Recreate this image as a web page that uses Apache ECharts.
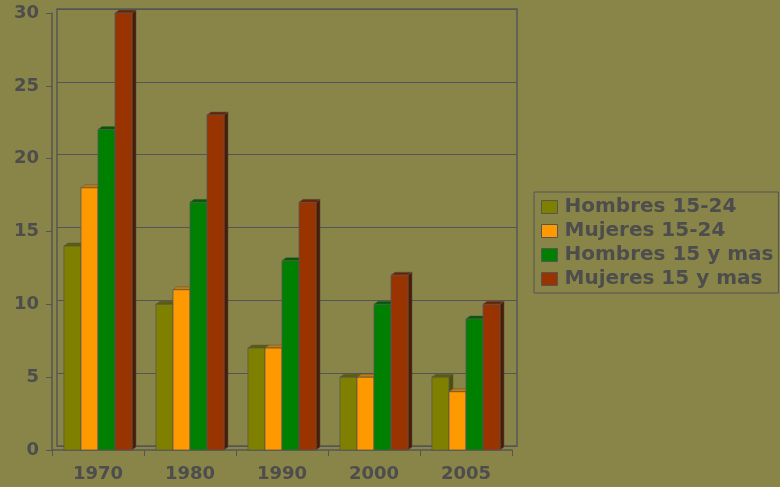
<!DOCTYPE html>
<html>
<head>
<meta charset="utf-8">
<script src="https://cdn.jsdelivr.net/npm/echarts@6/dist/echarts.min.js"></script>
<style>
  html, body { margin: 0; padding: 0; background: #898548; }
  #chart { width: 780px; height: 487px; }
</style>
</head>
<body>
<div id="chart"></div>
<script>
// datos
var years = ["1970", "1980", "1990", "2000", "2005"]
var hombres1524 = [14, 10, 7, 5, 5]
var mujeres1524 = [18, 11, 7, 5, 4]
var hombres15mas = [22, 17, 13, 10, 9]
var mujeres15mas = [30, 23, 17, 12, 10]
var seriesNames = ["Hombres 15-24", "Mujeres 15-24", "Hombres 15 y mas", "Mujeres 15 y mas"]
var yTicks = [0, 5, 10, 15, 20, 25, 30]

var colors = ["#808000", "#ff9900", "#008000", "#993300"]
var sideColors = ["#4f4f00", "#a86400", "#004d00", "#4f1a00"]
var topColors = ["#5e5e00", "#c97a00", "#005c00", "#6b2400"]
var txt = "#4d4d4d"
var font = "DejaVu Sans, Liberation Sans, Arial, sans-serif"

// barra con cara lateral y superior
function bar3d(idx) {
  return function (params, api) {
    var i = api.value(0), v = api.value(1)
    var base = api.coord([i, 0])
    var top = api.coord([i, v])
    var band = api.size([1, 0])[0]
    var w = band * 0.185
    var x = base[0] - 2 * w + idx * w
    var dx = 4, dy = 3
    return {
      type: "group",
      children: [
        { type: "polygon", shape: { points: [[x + w, top[1]], [x + w + dx, top[1] - dy], [x + w + dx, base[1] - dy], [x + w, base[1]]] },
          style: { fill: sideColors[idx], stroke: "#555", lineWidth: 0.5 } },
        { type: "polygon", shape: { points: [[x, top[1]], [x + dx, top[1] - dy], [x + w + dx, top[1] - dy], [x + w, top[1]]] },
          style: { fill: topColors[idx], stroke: "#555", lineWidth: 0.5 } },
        { type: "rect", shape: { x: x, y: top[1], width: w, height: base[1] - top[1] },
          style: { fill: colors[idx], stroke: "#555", lineWidth: 0.8 } }
      ]
    }
  }
}

var allData = [hombres1524, mujeres1524, hombres15mas, mujeres15mas]
var series = allData.map(function (arr, idx) {
  return {
    name: seriesNames[idx],
    type: "custom",
    xAxisIndex: 1,
    yAxisIndex: 1,
    itemStyle: { color: colors[idx] },
    renderItem: bar3d(idx),
    data: arr.map(function (v, i) { return [i, v] })
  }
})

var chart = echarts.init(document.getElementById("chart"))
chart.setOption({
  backgroundColor: "#898548",
  animation: false,
  textStyle: { fontFamily: font },
  legend: {
    orient: "vertical",
    left: 534,
    top: 192,
    padding: [5, 5, 4, 7],
    itemGap: 4,
    itemWidth: 16,
    itemHeight: 13,
    icon: "rect",
    borderColor: "#555",
    borderWidth: 1,
    itemStyle: { borderColor: "#555", borderWidth: 1 },
    textStyle: { color: txt, fontSize: 20, fontWeight: "bold", fontFamily: font, padding: [0, 0, 0, 2] },
    data: seriesNames
  },
  grid: [
    // pared del fondo
    { left: 57, top: 9, right: 263, bottom: 41, show: true, borderColor: "#555", borderWidth: 1.5 },
    // plano frontal
    { left: 52, top: 13, right: 268, bottom: 37 }
  ],
  xAxis: [
    { type: "category", gridIndex: 0, data: years, show: false },
    {
      type: "category", gridIndex: 1, data: years,
      axisLine: { lineStyle: { color: "#555", width: 1.5 } },
      axisTick: { show: true, length: 6, lineStyle: { color: "#555" } },
      axisLabel: { color: txt, fontSize: 18, fontWeight: "bold", margin: 15 }
    }
  ],
  yAxis: [
    {
      type: "value", gridIndex: 0, min: 0, max: 30, interval: 5,
      axisLabel: { show: false }, axisLine: { show: false }, axisTick: { show: false },
      splitLine: { lineStyle: { color: "#555", width: 1 } }
    },
    {
      type: "value", gridIndex: 1, min: yTicks[0], max: yTicks[yTicks.length - 1], interval: 5,
      axisLine: { show: true, lineStyle: { color: "#555", width: 1.5 } },
      axisTick: { show: true, length: 6, lineStyle: { color: "#555" } },
      splitLine: { show: false },
      axisLabel: { color: txt, fontSize: 18, fontWeight: "bold", margin: 13 }
    }
  ],
  series: series
})
</script>
</body>
</html>
